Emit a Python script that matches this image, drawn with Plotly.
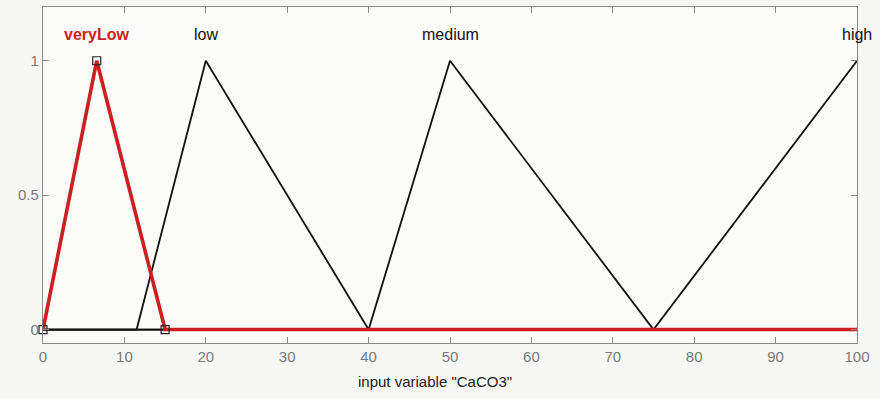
import plotly.graph_objects as go

# Membership function vertices for input variable "CaCO3"
names = ["veryLow", "low", "medium", "high"]
verylow_x = [0, 6.6, 15, 100]
verylow_y = [0, 1, 0, 0]
low_x = [0, 11.5, 20, 40, 100]
low_y = [0, 0, 1, 0, 0]
medium_x = [0, 40, 50, 75, 100]
medium_y = [0, 0, 1, 0, 0]
high_x = [0, 75, 100]
high_y = [0, 0, 1]
label_x = [6.6, 20, 50, 100]
label_y = 1.097

x_ticks = [0, 10, 20, 30, 40, 50, 60, 70, 80, 90, 100]
y_ticks = [0, 0.5, 1]
y_ticktext = ["0", "0.5", "1"]

RED = "#cc1f1f"
FONT = "Liberation Sans, Arial, sans-serif"

fig = go.Figure()

for xs, ys in [(low_x, low_y), (medium_x, medium_y), (high_x, high_y)]:
    fig.add_trace(go.Scatter(x=xs, y=ys, mode="lines",
                             line=dict(color="#111111", width=1.8),
                             hoverinfo="skip", showlegend=False))

# selected function drawn thick in red
fig.add_trace(go.Scatter(x=verylow_x, y=verylow_y, mode="lines",
                         line=dict(color=RED, width=3.6),
                         hoverinfo="skip", showlegend=False))
# vertex handles of the selected function
fig.add_trace(go.Scatter(x=verylow_x[:3], y=verylow_y[:3], mode="markers",
                         marker=dict(symbol="square-open", size=8,
                                     color="#222222", line=dict(width=1.2)),
                         cliponaxis=False, hoverinfo="skip", showlegend=False))

for i, name in enumerate(names):
    sel = i == 0
    fig.add_annotation(x=label_x[i], y=label_y, text=f"<b>{name}</b>" if sel else name,
                       showarrow=False, xanchor="center", yanchor="middle",
                       font=dict(family=FONT, size=16, color=RED if sel else "#111111"))

fig.add_annotation(x=0.4816, y=-0.115, xref="paper", yref="paper",
                   text='input variable "CaCO3"', showarrow=False,
                   xanchor="center", yanchor="middle",
                   font=dict(family=FONT, size=15, color="#222222"))

axis_common = dict(showline=True, linecolor="#8a8a8a", linewidth=1.2, mirror="ticks",
                   ticks="inside", ticklen=6, tickcolor="#8a8a8a", showgrid=False,
                   zeroline=False, tickfont=dict(family=FONT, size=15, color="#7a7a7a"))

fig.update_xaxes(range=[0, 100], tickvals=x_ticks, **axis_common)
fig.update_yaxes(range=[-0.05, 1.2], tickvals=y_ticks, ticktext=y_ticktext,
                 **axis_common)

fig.update_layout(width=880, height=399,
                  margin=dict(l=43, r=23, t=7, b=56),
                  paper_bgcolor="#f7f7f5", plot_bgcolor="#fbfbfa")

fig.write_html("out.html")
